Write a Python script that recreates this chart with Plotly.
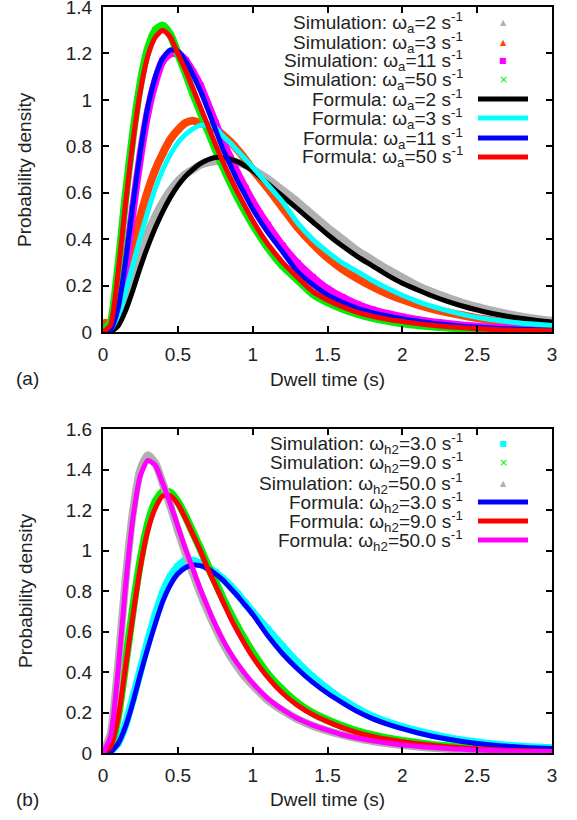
import plotly.graph_objects as go

W, H = 577, 820

# shared time grid (s)
X = [0, 0.05, 0.1, 0.15, 0.2, 0.25, 0.3, 0.35, 0.4, 0.45, 0.5, 0.55, 0.6, 0.65, 0.7, 0.75,
     0.8, 0.85, 0.9, 0.95, 1.0, 1.1, 1.2, 1.3, 1.4, 1.5, 1.6, 1.7, 1.8, 1.9, 2.0, 2.1, 2.2,
     2.3, 2.4, 2.5, 2.6, 2.7, 2.8, 2.9, 3.0]

# panel (a): simulations
sim_a_w2 = [0.01, 0.01, 0.06, 0.14, 0.24, 0.34, 0.43, 0.5, 0.56, 0.61, 0.65, 0.68, 0.7, 0.72, 0.73,
            0.735, 0.74, 0.74, 0.73, 0.72, 0.7, 0.66, 0.61, 0.56, 0.505, 0.45, 0.4, 0.35, 0.31,
            0.27, 0.235, 0.2, 0.172, 0.148, 0.126, 0.108, 0.092, 0.078, 0.066, 0.056, 0.048]
sim_a_w3 = [0.04, 0.04, 0.13, 0.25, 0.38, 0.5, 0.61, 0.7, 0.77, 0.83, 0.87, 0.9, 0.91, 0.9, 0.89,
            0.875, 0.85, 0.82, 0.785, 0.745, 0.7, 0.62, 0.535, 0.45, 0.38, 0.32, 0.27, 0.23, 0.195,
            0.165, 0.14, 0.118, 0.1, 0.085, 0.072, 0.06, 0.05, 0.042, 0.035, 0.03, 0.025]
sim_a_w11 = [0.005, 0.01, 0.09, 0.28, 0.53, 0.76, 0.95, 1.08, 1.17, 1.2, 1.2, 1.17, 1.12, 1.06,
             0.98, 0.9, 0.82, 0.75, 0.68, 0.62, 0.56, 0.46, 0.37, 0.295, 0.235, 0.185, 0.148,
             0.118, 0.095, 0.078, 0.064, 0.052, 0.042, 0.035, 0.028, 0.023, 0.019, 0.015, 0.012,
             0.01, 0.008]
sim_a_w50 = [0.005, 0.04, 0.27, 0.58, 0.85, 1.07, 1.22, 1.3, 1.32, 1.28, 1.2, 1.12, 1.03, 0.95,
             0.87, 0.79, 0.715, 0.645, 0.58, 0.52, 0.465, 0.365, 0.285, 0.225, 0.165, 0.128, 0.1,
             0.078, 0.061, 0.048, 0.038, 0.03, 0.024, 0.019, 0.015, 0.012, 0.009, 0.007, 0.006,
             0.005, 0.004]
# panel (a): formula curves
fit_a_w2 = [0, 0.003, 0.025, 0.09, 0.18, 0.28, 0.37, 0.45, 0.52, 0.58, 0.63, 0.67, 0.7, 0.725,
            0.742, 0.752, 0.752, 0.745, 0.733, 0.715, 0.695, 0.64, 0.585, 0.53, 0.475, 0.42,
            0.37, 0.325, 0.285, 0.245, 0.21, 0.182, 0.155, 0.132, 0.112, 0.095, 0.08, 0.068,
            0.058, 0.05, 0.043]
fit_a_w3 = [0, 0.01, 0.07, 0.17, 0.29, 0.41, 0.52, 0.62, 0.7, 0.765, 0.815, 0.85, 0.875, 0.89,
            0.89, 0.88, 0.845, 0.815, 0.78, 0.745, 0.71, 0.635, 0.56, 0.47, 0.4, 0.345, 0.298,
            0.26, 0.222, 0.188, 0.158, 0.132, 0.11, 0.092, 0.076, 0.063, 0.053, 0.045, 0.038,
            0.033, 0.028]
fit_a_w11 = [0, 0.01, 0.1, 0.3, 0.55, 0.78, 0.97, 1.1, 1.18, 1.215, 1.21, 1.17, 1.11, 1.04, 0.96,
             0.875, 0.79, 0.72, 0.65, 0.59, 0.53, 0.43, 0.345, 0.26, 0.205, 0.16, 0.128, 0.102,
             0.083, 0.069, 0.057, 0.047, 0.038, 0.031, 0.025, 0.021, 0.017, 0.014, 0.012, 0.01,
             0.008]
fit_a_w50 = [0, 0.03, 0.25, 0.55, 0.82, 1.04, 1.19, 1.27, 1.3, 1.27, 1.2, 1.13, 1.05, 0.97, 0.89,
             0.81, 0.735, 0.665, 0.6, 0.54, 0.48, 0.38, 0.3, 0.235, 0.175, 0.138, 0.108, 0.085,
             0.068, 0.055, 0.045, 0.036, 0.029, 0.023, 0.018, 0.014, 0.011, 0.009, 0.007, 0.006,
             0.005]

# panel (b): simulations
sim_b_w3 = [0.01, 0.01, 0.05, 0.14, 0.27, 0.41, 0.55, 0.68, 0.79, 0.87, 0.92, 0.95, 0.95, 0.935,
            0.915, 0.89, 0.86, 0.825, 0.785, 0.74, 0.695, 0.61, 0.525, 0.445, 0.375, 0.315,
            0.262, 0.217, 0.18, 0.152, 0.128, 0.108, 0.09, 0.075, 0.062, 0.052, 0.043, 0.036,
            0.031, 0.027, 0.024]
sim_b_w9 = [0.005, 0.03, 0.18, 0.44, 0.71, 0.95, 1.13, 1.24, 1.29, 1.285, 1.24, 1.17, 1.09, 1.01,
            0.925, 0.845, 0.765, 0.69, 0.62, 0.555, 0.495, 0.39, 0.31, 0.245, 0.198, 0.162,
            0.132, 0.107, 0.088, 0.072, 0.06, 0.049, 0.04, 0.033, 0.027, 0.022, 0.018, 0.015,
            0.012, 0.01, 0.008]
sim_b_w50 = [0.005, 0.09, 0.42, 0.85, 1.19, 1.4, 1.47, 1.43, 1.33, 1.22, 1.1, 0.99, 0.89, 0.79,
             0.7, 0.62, 0.545, 0.48, 0.425, 0.375, 0.335, 0.262, 0.21, 0.167, 0.135, 0.11, 0.089,
             0.072, 0.059, 0.048, 0.039, 0.032, 0.026, 0.021, 0.017, 0.014, 0.012, 0.01, 0.008,
             0.006, 0.005]
# panel (b): formula curves
fit_b_w3 = [0, 0.005, 0.045, 0.13, 0.25, 0.39, 0.52, 0.64, 0.75, 0.83, 0.885, 0.915, 0.928,
            0.925, 0.91, 0.885, 0.855, 0.815, 0.775, 0.73, 0.685, 0.58, 0.49, 0.415, 0.35, 0.295,
            0.248, 0.205, 0.17, 0.143, 0.12, 0.1, 0.083, 0.069, 0.057, 0.047, 0.039, 0.033,
            0.028, 0.025, 0.022]
fit_b_w9 = [0, 0.03, 0.17, 0.42, 0.68, 0.92, 1.1, 1.21, 1.27, 1.27, 1.23, 1.16, 1.08, 1.0, 0.91,
            0.83, 0.75, 0.67, 0.6, 0.535, 0.475, 0.375, 0.295, 0.235, 0.19, 0.155, 0.125, 0.1,
            0.082, 0.068, 0.056, 0.046, 0.038, 0.031, 0.026, 0.021, 0.017, 0.014, 0.012, 0.01,
            0.008]
fit_b_w50 = [0, 0.08, 0.4, 0.82, 1.16, 1.37, 1.445, 1.42, 1.33, 1.23, 1.12, 1.01, 0.91, 0.81,
             0.72, 0.635, 0.56, 0.495, 0.44, 0.39, 0.345, 0.27, 0.215, 0.17, 0.138, 0.113, 0.09,
             0.074, 0.06, 0.049, 0.04, 0.033, 0.027, 0.022, 0.018, 0.015, 0.012, 0.01, 0.008,
             0.007, 0.006]

TICK_X = [0, 0.5, 1, 1.5, 2, 2.5, 3]
TICK_YA = [0, 0.2, 0.4, 0.6, 0.8, 1, 1.2, 1.4]
TICK_YB = [0, 0.2, 0.4, 0.6, 0.8, 1, 1.2, 1.4, 1.6]
FONT = "Liberation Sans, Arial, sans-serif"
TXT = "#222222"
FS = 19


def px(x):
    return x / W


def py(y):
    return 1 - y / H


# (series, colour, symbol, legend text)
sims_a = [
    (sim_a_w2, "#b0b0b0", "triangle-up", "Simulation: ω<sub>a</sub>=2 s<sup>-1</sup>"),
    (sim_a_w3, "#ff4500", "triangle-up", "Simulation: ω<sub>a</sub>=3 s<sup>-1</sup>"),
    (sim_a_w11, "#ff00ff", "square", "Simulation: ω<sub>a</sub>=11 s<sup>-1</sup>"),
    (sim_a_w50, "#00ee00", "x-thin", "Simulation: ω<sub>a</sub>=50 s<sup>-1</sup>"),
]
fits_a = [
    (fit_a_w2, "#000000", "Formula: ω<sub>a</sub>=2 s<sup>-1</sup>"),
    (fit_a_w3, "#00ffff", "Formula: ω<sub>a</sub>=3 s<sup>-1</sup>"),
    (fit_a_w11, "#0000ff", "Formula: ω<sub>a</sub>=11 s<sup>-1</sup>"),
    (fit_a_w50, "#ff0000", "Formula: ω<sub>a</sub>=50 s<sup>-1</sup>"),
]
sims_b = [
    (sim_b_w3, "#00ffff", "square", "Simulation: ω<sub>h2</sub>=3.0 s<sup>-1</sup>"),
    (sim_b_w9, "#00ee00", "x-thin", "Simulation: ω<sub>h2</sub>=9.0 s<sup>-1</sup>"),
    (sim_b_w50, "#b0b0b0", "triangle-up", "Simulation: ω<sub>h2</sub>=50.0 s<sup>-1</sup>"),
]
fits_b = [
    (fit_b_w3, "#0000ff", "Formula: ω<sub>h2</sub>=3.0 s<sup>-1</sup>"),
    (fit_b_w9, "#ff0000", "Formula: ω<sub>h2</sub>=9.0 s<sup>-1</sup>"),
    (fit_b_w50, "#ff00ff", "Formula: ω<sub>h2</sub>=50.0 s<sup>-1</sup>"),
]

fig = go.Figure()
annotations = []
shapes = []


def add_panel(sims, fits, xa, ya, rows):
    for ys, col, sym, _ in sims:
        fig.add_trace(go.Scatter(
            x=X, y=ys, xaxis=xa, yaxis=ya, mode="lines+markers",
            line=dict(color=col, width=8, shape="spline", smoothing=0.6),
            marker=dict(color=col, symbol=sym, size=6, line=dict(color=col, width=1)),
            showlegend=False, hoverinfo="skip"))
    for ys, col, _ in fits:
        fig.add_trace(go.Scatter(
            x=X, y=ys, xaxis=xa, yaxis=ya, mode="lines",
            line=dict(color=col, width=5, shape="spline", smoothing=0.6),
            showlegend=False))
    # gnuplot-style key: right-aligned text, sample on the right
    labels = [s[3] for s in sims] + [f[2] for f in fits]
    for i, (lab, yy) in enumerate(zip(labels, rows)):
        annotations.append(dict(
            text=lab, x=px(465), y=py(yy), xref="paper", yref="paper",
            xanchor="right", yanchor="middle", showarrow=False,
            font=dict(family=FONT, size=FS, color=TXT)))
        if i < len(sims):
            col, sym = sims[i][1], sims[i][2]
            glyph = {"triangle-up": "▲", "square": "■", "x-thin": "×"}[sym]
            annotations.append(dict(
                text=glyph, x=px(503), y=py(yy), xref="paper", yref="paper",
                xanchor="center", yanchor="middle", showarrow=False,
                font=dict(family="DejaVu Sans", size=8 if sym != "x-thin" else 11, color=col)))
        else:
            col = fits[i - len(sims)][1]
            shapes.append(dict(type="line", xref="paper", yref="paper",
                               x0=px(478), x1=px(528), y0=py(yy), y1=py(yy),
                               line=dict(color=col, width=5)))


add_panel(sims_a, fits_a, "x", "y", [22, 42, 61, 80, 99, 118, 138, 157])
add_panel(sims_b, fits_b, "x2", "y2", [443, 463, 483, 502, 521, 540])

axis_common = dict(
    showline=True, linecolor="black", linewidth=2, mirror="ticks",
    ticks="inside", ticklen=6, tickwidth=2, tickcolor="black",
    showgrid=False, zeroline=False, automargin=False, ticklabeloverflow="allow",
    tickfont=dict(family=FONT, size=FS, color=TXT),
)

xdom = [px(103), px(552)]
fig.update_layout(
    width=W, height=H,
    margin=dict(l=0, r=0, t=0, b=0),
    paper_bgcolor="white", plot_bgcolor="white",
    showlegend=False,
    xaxis=dict(domain=xdom, range=[0, 3], tickvals=TICK_X, anchor="y",
               ticklabelstandoff=4, **axis_common),
    yaxis=dict(domain=[py(332), py(7)], range=[0, 1.4], tickvals=TICK_YA, anchor="x",
               ticklabelstandoff=5, **axis_common),
    xaxis2=dict(domain=xdom, range=[0, 3], tickvals=TICK_X, anchor="y2",
                ticklabelstandoff=4, **axis_common),
    yaxis2=dict(domain=[py(753), py(429)], range=[0, 1.6], tickvals=TICK_YB, anchor="x2",
                ticklabelstandoff=5, **axis_common),
)

for lab, ycen in [("(a)", 378), ("(b)", 799)]:
    annotations.append(dict(text=lab, x=px(27), y=py(ycen), xref="paper", yref="paper",
                            xanchor="center", yanchor="middle", showarrow=False,
                            font=dict(family=FONT, size=FS, color=TXT)))
for ycen in [379, 799]:
    annotations.append(dict(text="Dwell time (s)", x=px(327), y=py(ycen), xref="paper",
                            yref="paper", xanchor="center", yanchor="middle", showarrow=False,
                            font=dict(family=FONT, size=FS, color=TXT)))
for ycen in [170, 591]:
    annotations.append(dict(text="Probability density", x=px(25), y=py(ycen), xref="paper",
                            yref="paper", xanchor="center", yanchor="middle", showarrow=False,
                            textangle=-90, font=dict(family=FONT, size=FS, color=TXT)))

fig.update_layout(annotations=annotations, shapes=shapes)

# drop the browser's default body margin so the figure sits at the page origin
fig.write_html("out.html", config={"displayModeBar": False},
               post_script="document.body.style.margin='0';")
